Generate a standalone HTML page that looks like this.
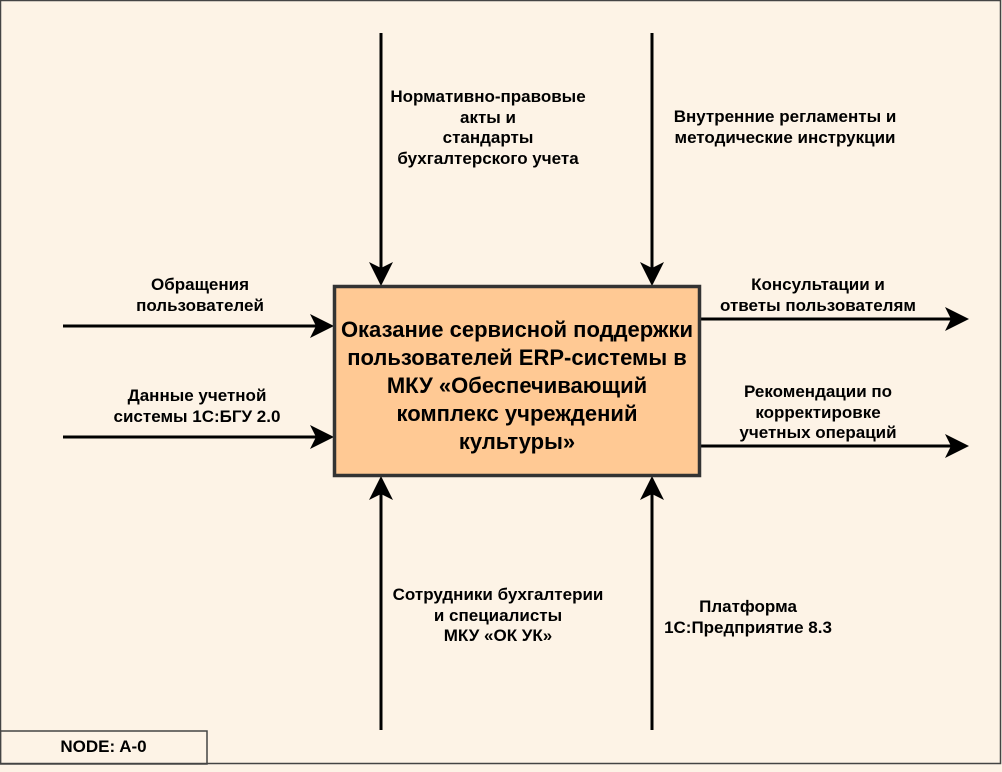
<!DOCTYPE html>
<html><head><meta charset="utf-8"><style>
html,body{margin:0;padding:0;background:#fdf3e6;}
body{width:1002px;height:772px;position:relative;overflow:hidden;font-family:"Liberation Sans",sans-serif;}
.t{position:absolute;font-weight:bold;font-size:17px;line-height:20.5px;text-align:center;color:#000;white-space:nowrap;}
</style></head><body>
<svg width="1002" height="772" style="position:absolute;left:0;top:0">
<rect x="0.5" y="0.5" width="1000" height="763" fill="#fdf3e6" stroke="#444" stroke-width="1.5"/>
<rect x="0.5" y="731" width="206.5" height="33" fill="none" stroke="#444" stroke-width="1.5"/>
<g stroke="#000" stroke-width="3" fill="none">
<path d="M381,33 V272"/><path d="M652,33 V272"/>
<path d="M381,730 V490"/><path d="M652,730 V490"/>
<path d="M63,326 H320"/><path d="M63,437 H320"/>
<path d="M701,319 H955"/><path d="M701,446 H955"/>
</g>
<g fill="#000">
<path d="M369,262 L381,286 L393,262 L381,268 Z"/>
<path d="M640,262 L652,286 L664,262 L652,268 Z"/>
<path d="M369,500 L381,476 L393,500 L381,494 Z"/>
<path d="M640,500 L652,476 L664,500 L652,494 Z"/>
<path d="M310,314 L334,326 L310,338 L316,326 Z"/>
<path d="M310,425 L334,437 L310,449 L316,437 Z"/>
<path d="M945,307 L969,319 L945,331 L951,319 Z"/>
<path d="M945,434 L969,446 L945,458 L951,446 Z"/>
</g>
<rect x="334.5" y="286.5" width="365" height="189" fill="#ffc994" stroke="#333" stroke-width="3.5"/>
</svg>
<div class="t" style="left:334px;top:316px;width:366px;font-size:22px;line-height:28px;">Оказание сервисной поддержки<br>пользователей ERP-системы в<br>МКУ «Обеспечивающий<br>комплекс учреждений<br>культуры»</div>
<div class="t" style="left:378px;top:87px;width:220px;">Нормативно-правовые<br>акты и<br>стандарты<br>бухгалтерского учета</div>
<div class="t" style="left:655px;top:107px;width:260px;">Внутренние регламенты и<br>методические инструкции</div>
<div class="t" style="left:95px;top:275px;width:210px;">Обращения<br>пользователей</div>
<div class="t" style="left:92px;top:386px;width:210px;">Данные учетной<br>системы 1С:БГУ 2.0</div>
<div class="t" style="left:708px;top:275px;width:220px;">Консультации и<br>ответы пользователям</div>
<div class="t" style="left:708px;top:382px;width:220px;">Рекомендации по<br>корректировке<br>учетных операций</div>
<div class="t" style="left:378px;top:585px;width:240px;">Сотрудники бухгалтерии<br>и специалисты<br>МКУ «ОК УК»</div>
<div class="t" style="left:643px;top:597px;width:210px;">Платформа<br>1С:Предприятие 8.3</div>
<div class="t" style="left:0;top:737px;width:207px;">NODE: A-0</div>
</body></html>
